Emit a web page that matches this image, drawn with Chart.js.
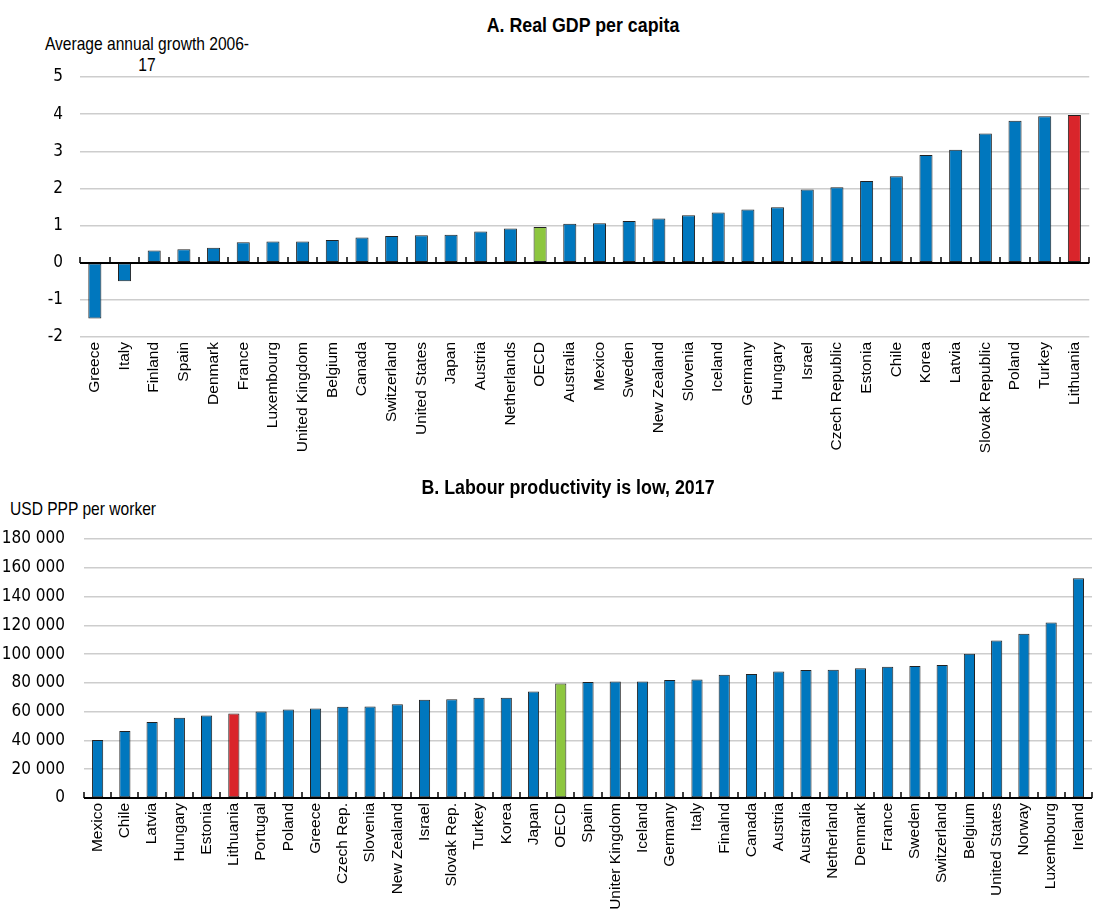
<!DOCTYPE html>
<html lang="en">
<head>
<meta charset="UTF-8">
<title>Real GDP per capita and labour productivity</title>
<script src="https://cdn.jsdelivr.net/npm/chart.js"></script>
<style>
  body { margin: 0; background: #fff; width: 1094px; height: 910px; overflow: hidden; position: relative;
         font-family: 'Liberation Sans', Arial, sans-serif; color: #000; }
  .panel { position: absolute; left: 0; overflow: visible; }
  .title { position: absolute; font-weight: bold; font-size: 20px; line-height: 22px; white-space: nowrap;
           transform: translateX(-50%) scaleX(0.89); transform-origin: center; }
  .unit { position: absolute; font-size: 19px; line-height: 21px; white-space: nowrap; }
</style>
</head>
<body>
  <!-- Panel A -->
  <div class="title" style="left:583px; top:14px;">A. Real GDP per capita</div>
  <div class="unit" style="left:147px; top:33px; text-align:center; transform:translateX(-50%) scaleX(0.82);">Average annual growth 2006-<br>17</div>
  <div class="panel" style="top:0;"><canvas id="gdpChart" width="1098" height="480"></canvas></div>

  <!-- Panel B -->
  <div class="title" style="left:568px; top:476px;">B. Labour productivity is low, 2017</div>
  <div class="unit" style="left:10px; top:498px; transform:scaleX(0.82); transform-origin:left;">USD PPP per worker</div>
  <div class="panel" style="top:480px;"><canvas id="prodChart" width="1102" height="430"></canvas></div>

<script>
  // Panel A: real GDP per capita, average annual growth 2006-17
  const gdpCountries = ['Greece', 'Italy', 'Finland', 'Spain', 'Denmark', 'France', 'Luxembourg', 'United Kingdom',
    'Belgium', 'Canada', 'Switzerland', 'United States', 'Japan', 'Austria', 'Netherlands', 'OECD', 'Australia',
    'Mexico', 'Sweden', 'New Zealand', 'Slovenia', 'Iceland', 'Germany', 'Hungary', 'Israel', 'Czech Republic',
    'Estonia', 'Chile', 'Korea', 'Latvia', 'Slovak Republic', 'Poland', 'Turkey', 'Lithuania'];
  const gdpGrowth = [-1.5, -0.5, 0.33, 0.36, 0.4, 0.55, 0.57, 0.57, 0.61, 0.68, 0.72, 0.74, 0.75, 0.84, 0.92, 0.96,
    1.05, 1.06, 1.12, 1.19, 1.28, 1.35, 1.43, 1.49, 1.97, 2.03, 2.2, 2.33, 2.9, 3.04, 3.48, 3.82, 3.94, 3.98];
  const gdpTicks = [-2, -1, 0, 1, 2, 3, 4, 5];

  // Panel B: labour productivity, 2017
  const prodCountries = ['Mexico', 'Chile', 'Latvia', 'Hungary', 'Estonia', 'Lithuania', 'Portugal', 'Poland', 'Greece',
    'Czech Rep.', 'Slovenia', 'New Zealand', 'Israel', 'Slovak Rep.', 'Turkey', 'Korea', 'Japan', 'OECD', 'Spain',
    'Uniter Kingdom', 'Iceland', 'Germany', 'Italy', 'Finalnd', 'Canada', 'Austria', 'Australia', 'Netherland',
    'Denmark', 'France', 'Sweden', 'Switzerland', 'Belgium', 'United States', 'Norway', 'Luxembourg', 'Ireland'];
  const prodValues = [40300, 46600, 52800, 55800, 57400, 58800, 60200, 61500, 62200, 63400, 63600, 65200, 68200, 68700,
    69600, 69600, 74000, 79500, 80700, 80900, 80900, 82000, 82300, 85700, 86200, 88000, 89000, 89200, 90100, 91300,
    91700, 92400, 100300, 109500, 114100, 121900, 152800];
  const prodTicks = [0, 20000, 40000, 60000, 80000, 100000, 120000, 140000, 160000, 180000];

  const BLUE = '#0077BE';
  const GREEN = '#8DC63F';
  const RED = '#D9252B';
  const narrow = "'Liberation Sans Narrow', 'Arial Narrow', 'DejaVu Sans Condensed', sans-serif";
  const wide = "'Liberation Sans', Arial, sans-serif";

  function barColour(name) {
    if (name === 'OECD') return GREEN;
    if (name === 'Lithuania') return RED;
    return BLUE;
  }

  // black zero line with small upward ticks between categories
  const baseline = {
    id: 'baseline',
    afterDatasetsDraw(chart) {
      const { ctx, chartArea, scales: { x, y } } = chart;
      const y0 = Math.round(y.getPixelForValue(0));
      const n = chart.data.labels.length;
      const step = x.getPixelForValue(1) - x.getPixelForValue(0);
      ctx.save();
      ctx.strokeStyle = '#000';
      ctx.lineWidth = 2;
      ctx.beginPath();
      ctx.moveTo(chartArea.left, y0);
      ctx.lineTo(chartArea.right, y0);
      ctx.stroke();
      ctx.lineWidth = 1.5;
      ctx.beginPath();
      for (let i = 0; i <= n; i++) {
        const px = Math.round(x.getPixelForValue(i) - step / 2);
        ctx.moveTo(px, y0);
        ctx.lineTo(px, y0 - 6);
      }
      ctx.stroke();
      ctx.restore();
    }
  };

  function makeChart(id, labels, values, ticks, opts) {
    return new Chart(document.getElementById(id), {
      type: 'bar',
      data: {
        labels: labels,
        datasets: [{
          data: values,
          backgroundColor: labels.map(barColour),
          borderColor: '#222',
          borderWidth: 1,
          borderSkipped: false,
          categoryPercentage: 1,
          barPercentage: opts.barPct
        }]
      },
      options: {
        responsive: false,
        animation: false,
        layout: { padding: { top: opts.top, left: 0, right: 0, bottom: 0 } },
        plugins: { legend: { display: false }, tooltip: { enabled: false } },
        scales: {
          x: {
            grid: { display: false, drawTicks: false },
            border: { display: false },
            ticks: {
              autoSkip: false, maxRotation: 90, minRotation: 90, padding: 5,
              color: '#000', font: { family: wide, size: 15.5 }
            },
            afterFit: s => { s.height = opts.xHeight; }
          },
          y: {
            min: ticks[0], max: ticks[ticks.length - 1],
            afterBuildTicks: s => { s.ticks = ticks.map(v => ({ value: v })); },
            grid: {
              drawTicks: false, lineWidth: 1.5,
              color: c => (c.tick && c.tick.value === 0) ? 'rgba(0,0,0,0)' : '#CDCDCD'
            },
            border: { display: false },
            ticks: {
              padding: opts.tickPad, color: '#000', font: { family: narrow, size: 17 },
              callback: v => v.toLocaleString('en-US').replace(/,/g, ' ')
            },
            afterFit: s => { s.width = opts.yWidth; }
          }
        }
      },
      plugins: [baseline]
    });
  }

  makeChart('gdpChart', gdpCountries, gdpGrowth, gdpTicks,
    { top: 77, xHeight: 143, yWidth: 80, tickPad: 17, barPct: 0.44 });
  makeChart('prodChart', prodCountries, prodValues, prodTicks,
    { top: 59, xHeight: 112, yWidth: 84, tickPad: 19, barPct: 0.41 });
</script>
</body>
</html>
